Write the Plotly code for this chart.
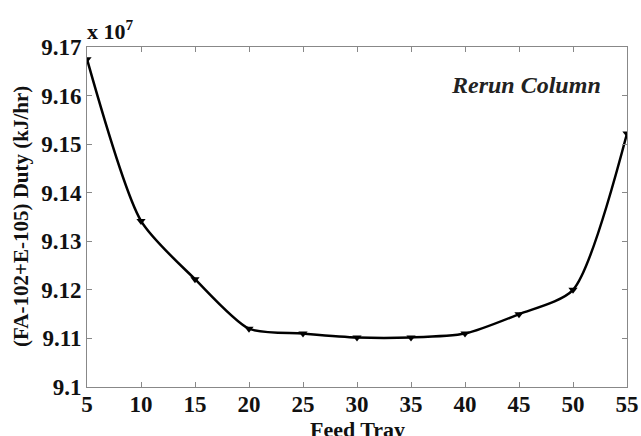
import plotly.graph_objects as go

feed_tray = [5, 10, 15, 20, 25, 30, 35, 40, 45, 50, 55]
duty_e7 = [9.1675, 9.1342, 9.1222, 9.1120, 9.1110, 9.1102, 9.1102, 9.1110, 9.1150, 9.1200, 9.1522]

x_ticks = [5, 10, 15, 20, 25, 30, 35, 40, 45, 50, 55]
y_ticks = [9.10, 9.11, 9.12, 9.13, 9.14, 9.15, 9.16, 9.17]
y_tick_text = ["9.1", "9.11", "9.12", "9.13", "9.14", "9.15", "9.16", "9.17"]

fig = go.Figure()
fig.add_trace(go.Scatter(
    x=feed_tray, y=duty_e7, mode="lines+markers",
    line=dict(color="black", width=2.5, shape="spline", smoothing=0.7),
    marker=dict(symbol="triangle-down", size=8, color="black"),
    showlegend=False,
))

font_tick = dict(family="Liberation Serif", size=23, color="#111")
axis_common = dict(
    showgrid=False, zeroline=False, showline=True, linecolor="#888", linewidth=1,
    mirror="ticks", ticks="inside", ticklen=5, tickcolor="#888",
    tickfont=font_tick, automargin=False,
)
fig.update_xaxes(range=[5, 55], tickvals=x_ticks, ticktext=["<b>%d</b>" % v for v in x_ticks],
                 ticklabelstandoff=-4, **axis_common)
fig.update_yaxes(range=[9.10, 9.17], tickvals=y_ticks, ticktext=["<b>%s</b>" % t for t in y_tick_text],
                 **axis_common)

title_font = dict(family="Liberation Serif", size=22, color="#111")
fig.add_annotation(x=0.5, y=0, xref="paper", yref="paper", xanchor="center", yanchor="top",
                   yshift=-28, text="<b>Feed Tray</b>", showarrow=False, font=title_font)
fig.add_annotation(x=0, y=0.5, xref="paper", yref="paper", xanchor="center", yanchor="middle",
                   xshift=-66, textangle=-90, text="<b>(FA-102+E-105) Duty (kJ/hr)</b>",
                   showarrow=False, font=dict(family="Liberation Serif", size=21, color="#111"))

fig.add_annotation(x=0, y=1, xref="paper", yref="paper", xanchor="left", yanchor="bottom",
                   text="<b>x 10<sup>7</sup></b>", showarrow=False, yshift=1, xshift=-2,
                   font=dict(family="Liberation Serif", size=22, color="#111"))
fig.add_annotation(x=0.813, y=0.888, xref="paper", yref="paper", xanchor="center", yanchor="middle",
                   text="<b><i>Rerun Column</i></b>", showarrow=False,
                   font=dict(family="Liberation Serif", size=24, color="#222"))

fig.update_layout(
    width=641, height=436, margin=dict(l=87, r=14, t=47, b=49),
    paper_bgcolor="white", plot_bgcolor="white",
)
fig.write_html("out.html", config={"displayModeBar": False},
               post_script="document.body.style.margin='0';document.body.style.overflow='hidden';")
